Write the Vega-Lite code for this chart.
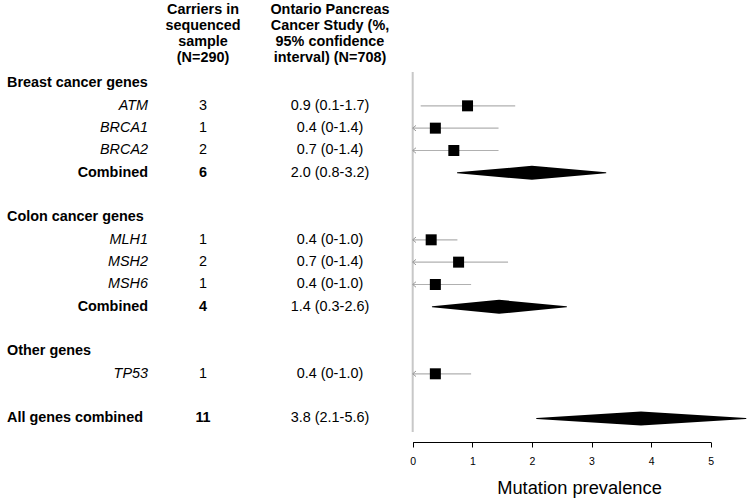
{
  "$schema": "https://vega.github.io/schema/vega-lite/v6.json",
  "width": 750,
  "height": 442,
  "autosize": {"type": "none"},
  "padding": {"left": 0, "right": 0, "top": 0, "bottom": 58},
  "background": "white",
  "config": {
    "view": {"stroke": null},
    "font": "Liberation Sans",
    "text": {"font": "Liberation Sans", "fontSize": 14.4, "color": "#000000"}
  },
  "datasets": {
    "items": [
      {"row": 0, "label": "Breast cancer genes", "kind": "group"},
      {"row": 1, "label": "ATM", "kind": "gene", "n": "3", "ci": "0.9 (0.1-1.7)", "est": 0.92, "lo": 0.134, "hi": 1.72, "trunc": false},
      {"row": 2, "label": "BRCA1", "kind": "gene", "n": "1", "ci": "0.4 (0-1.4)", "est": 0.38, "lo": 0, "hi": 1.44, "trunc": true},
      {"row": 3, "label": "BRCA2", "kind": "gene", "n": "2", "ci": "0.7 (0-1.4)", "est": 0.69, "lo": 0, "hi": 1.44, "trunc": true},
      {"row": 4, "label": "Combined", "kind": "combined", "n": "6", "ci": "2.0 (0.8-3.2)", "est": 2.0, "lo": 0.75, "hi": 3.24},
      {"row": 6, "label": "Colon cancer genes", "kind": "group"},
      {"row": 7, "label": "MLH1", "kind": "gene", "n": "1", "ci": "0.4 (0-1.0)", "est": 0.31, "lo": 0, "hi": 0.75, "trunc": true},
      {"row": 8, "label": "MSH2", "kind": "gene", "n": "2", "ci": "0.7 (0-1.4)", "est": 0.77, "lo": 0, "hi": 1.6, "trunc": true},
      {"row": 9, "label": "MSH6", "kind": "gene", "n": "1", "ci": "0.4 (0-1.0)", "est": 0.38, "lo": 0, "hi": 0.98, "trunc": true},
      {"row": 10, "label": "Combined", "kind": "combined", "n": "4", "ci": "1.4 (0.3-2.6)", "est": 1.45, "lo": 0.33, "hi": 2.58},
      {"row": 12, "label": "Other genes", "kind": "group"},
      {"row": 13, "label": "TP53", "kind": "gene", "n": "1", "ci": "0.4 (0-1.0)", "est": 0.38, "lo": 0, "hi": 0.98, "trunc": true},
      {"row": 15, "label": "All genes combined", "kind": "all", "n": "11", "ci": "3.8 (2.1-5.6)", "est": 3.83, "lo": 2.08, "hi": 5.59}
    ],
    "headers": [
      {"row": -3.29, "col": "n", "text": ["Carriers in", "sequenced", "sample", "(N=290)"]},
      {"row": -3.29, "col": "ci", "text": ["Ontario Pancreas", "Cancer Study (%,", "95% confidence", "interval) (N=708)"]}
    ]
  },
  "resolve": {"scale": {"x": "independent"}},
  "encoding": {
    "y": {"field": "row", "type": "quantitative", "scale": {"domain": [-3.739, 16.054], "reverse": true, "nice": false, "zero": false}, "axis": null}
  },
  "layer": [
    {
      "data": {"name": "items"},
      "layer": [
        {
          "mark": {"type": "rule", "color": "#c8c8c8", "strokeWidth": 2, "yOffset": -11.5, "y2Offset": 13.5},
          "encoding": {
            "x": {"datum": 0, "type": "quantitative", "scale": {"domain": [0, 5], "range": [412.7, 710.7], "nice": false, "zero": false},
              "axis": {"values": [0, 1, 2, 3, 4, 5], "format": "d", "grid": false, "domainColor": "#000000", "domainWidth": 1, "tickColor": "#000000", "tickSize": 5, "tickWidth": 1, "labelFont": "Liberation Sans", "labelFontSize": 10.5, "labelColor": "#000000", "labelPadding": 9, "labelFlush": false, "title": "Mutation prevalence", "titleFont": "Liberation Sans", "titleFontSize": 18.3, "titleFontWeight": "normal", "titleColor": "#000000", "titleX": 579, "titleY": 51, "titleBaseline": "alphabetic", "titleAlign": "center"}},
            "y": {"aggregate": "min", "field": "row", "type": "quantitative", "scale": {"domain": [-3.739, 16.054], "reverse": true, "nice": false, "zero": false}, "axis": null},
            "y2": {"aggregate": "max", "field": "row"}
          }
        },
        {
          "transform": [{"filter": "datum.kind === 'gene'"}],
          "mark": {"type": "rule", "color": "#b0b0b0", "strokeWidth": 1.2},
          "encoding": {
            "x": {"field": "lo", "type": "quantitative", "scale": {"domain": [0, 5], "range": [412.7, 710.7], "nice": false, "zero": false}},
            "x2": {"field": "hi"}
          }
        },
        {
          "transform": [{"filter": "datum.trunc === true"}],
          "mark": {"type": "point", "shape": "M1.2,-1L0,0L1.2,1", "filled": false, "stroke": "#9a9a9a", "strokeWidth": 1, "size": 30, "opacity": 1},
          "encoding": {
            "x": {"field": "lo", "type": "quantitative", "scale": {"domain": [0, 5], "range": [412.7, 710.7], "nice": false, "zero": false}}
          }
        },
        {
          "transform": [{"filter": "datum.kind === 'gene'"}],
          "mark": {"type": "point", "shape": "square", "filled": true, "color": "#000000", "size": 121, "opacity": 1},
          "encoding": {
            "x": {"field": "est", "type": "quantitative", "scale": {"domain": [0, 5], "range": [412.7, 710.7], "nice": false, "zero": false}}
          }
        },
        {
          "transform": [
            {"filter": "datum.kind === 'combined' || datum.kind === 'all'"},
            {"fold": ["lo", "est", "hi"], "as": ["part", "xv"]}
          ],
          "mark": {"type": "trail", "color": "#000000"},
          "encoding": {
            "x": {"field": "xv", "type": "quantitative", "scale": {"domain": [0, 5], "range": [412.7, 710.7], "nice": false, "zero": false}},
            "detail": {"field": "row", "type": "nominal"},
            "order": {"field": "xv", "type": "quantitative"},
            "size": {"condition": {"test": "datum.part === 'est'", "value": 14}, "value": 0}
          }
        }
      ]
    },
    {
      "data": {"name": "items"},
      "transform": [{"filter": "datum.kind === 'group' || datum.kind === 'all'"}],
      "mark": {"type": "text", "align": "left", "fontWeight": "bold"},
      "encoding": {
        "x": {"datum": "label", "type": "nominal", "bandPosition": 0, "scale": {"type": "band", "domain": ["label"], "range": [7, 148], "paddingInner": 0, "paddingOuter": 0}, "axis": null},
        "text": {"field": "label"}
      }
    },
    {
      "data": {"name": "items"},
      "transform": [{"filter": "datum.kind === 'gene'"}],
      "mark": {"type": "text", "align": "right", "fontStyle": "italic"},
      "encoding": {
        "x": {"datum": "label", "type": "nominal", "bandPosition": 1, "scale": {"type": "band", "domain": ["label"], "range": [7, 148], "paddingInner": 0, "paddingOuter": 0}, "axis": null},
        "text": {"field": "label"}
      }
    },
    {
      "data": {"name": "items"},
      "transform": [{"filter": "datum.kind === 'combined'"}],
      "mark": {"type": "text", "align": "right", "fontWeight": "bold"},
      "encoding": {
        "x": {"datum": "label", "type": "nominal", "bandPosition": 1, "scale": {"type": "band", "domain": ["label"], "range": [7, 148], "paddingInner": 0, "paddingOuter": 0}, "axis": null},
        "text": {"field": "label"}
      }
    },
    {
      "data": {"name": "items"},
      "transform": [{"filter": "datum.kind === 'gene'"}],
      "mark": {"type": "text", "align": "center"},
      "encoding": {
        "x": {"datum": "n", "type": "nominal", "scale": {"type": "band", "domain": ["n", "ci"], "range": [139.5, 393.5], "paddingInner": 0, "paddingOuter": 0}, "axis": null},
        "text": {"field": "n"}
      }
    },
    {
      "data": {"name": "items"},
      "transform": [{"filter": "datum.kind === 'combined' || datum.kind === 'all'"}],
      "mark": {"type": "text", "align": "center", "fontWeight": "bold"},
      "encoding": {
        "x": {"datum": "n", "type": "nominal", "scale": {"type": "band", "domain": ["n", "ci"], "range": [139.5, 393.5], "paddingInner": 0, "paddingOuter": 0}, "axis": null},
        "text": {"field": "n"}
      }
    },
    {
      "data": {"name": "items"},
      "transform": [{"filter": "datum.kind !== 'group'"}],
      "mark": {"type": "text", "align": "center"},
      "encoding": {
        "x": {"datum": "ci", "type": "nominal", "scale": {"type": "band", "domain": ["n", "ci"], "range": [139.5, 393.5], "paddingInner": 0, "paddingOuter": 0}, "axis": null},
        "text": {"field": "ci"}
      }
    },
    {
      "data": {"name": "headers"},
      "mark": {"type": "text", "align": "center", "baseline": "middle", "fontWeight": "bold", "lineHeight": 16},
      "encoding": {
        "x": {"field": "col", "type": "nominal", "scale": {"type": "band", "domain": ["n", "ci"], "range": [139.5, 393.5], "paddingInner": 0, "paddingOuter": 0}, "axis": null},
        "text": {"field": "text"}
      }
    }
  ]
}
